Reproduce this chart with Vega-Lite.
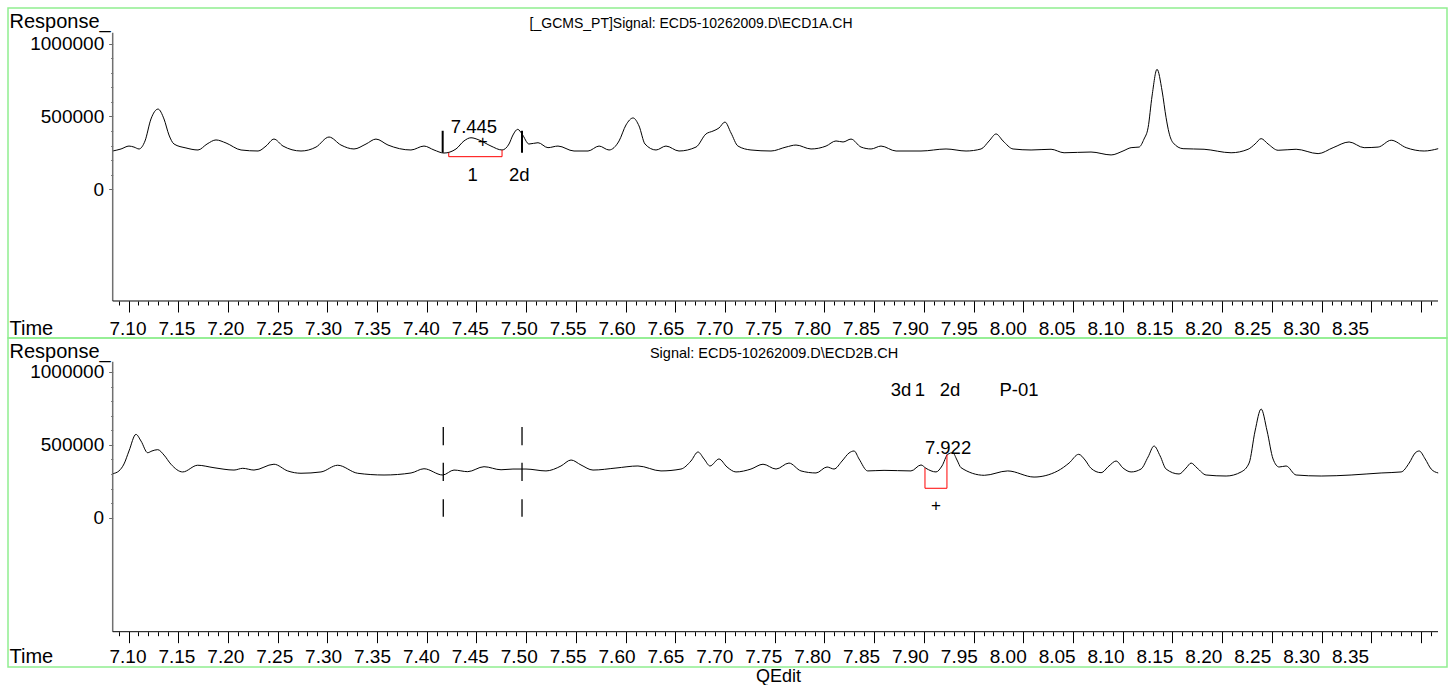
{
  "$schema": "https://vega.github.io/schema/vega-lite/v6.json",
  "padding": {"left": 7, "top": 7, "right": 0, "bottom": 0},
  "background": "white",
  "spacing": 0,
  "bounds": "flush",
  "config": {
    "view": {"stroke": "#90ee90", "strokeWidth": 1.5},
    "font": "Liberation Sans",
    "axis": {"grid": false, "domain": false, "labelFont": "Liberation Sans", "titleFont": "Liberation Sans", "labelColor": "black", "titleColor": "black", "titleFontWeight": "normal", "labelFlush": false, "labelOverlap": false, "labelBound": false}
  },
  "datasets": {
    "top": [
      {"t":7.0841,"v":263000},{"t":7.0925,"v":277000},{"t":7.1005,"v":297000},{"t":7.1055,"v":290000},{"t":7.1106,"v":277000},{"t":7.1166,"v":332000},{"t":7.1226,"v":483000},{"t":7.1297,"v":551000},{"t":7.1357,"v":483000},{"t":7.1407,"v":373000},{"t":7.1458,"v":311000},{"t":7.1578,"v":284000},{"t":7.1699,"v":270000},{"t":7.179,"v":311000},{"t":7.188,"v":339000},{"t":7.1981,"v":318000},{"t":7.2132,"v":270000},{"t":7.2303,"v":263000},{"t":7.2383,"v":297000},{"t":7.2463,"v":345000},{"t":7.2554,"v":297000},{"t":7.2735,"v":263000},{"t":7.2886,"v":290000},{"t":7.3017,"v":359000},{"t":7.3137,"v":304000},{"t":7.3268,"v":277000},{"t":7.3389,"v":311000},{"t":7.3489,"v":345000},{"t":7.361,"v":304000},{"t":7.3841,"v":270000},{"t":7.3972,"v":297000},{"t":7.4073,"v":270000},{"t":7.4173,"v":249000},{"t":7.4294,"v":277000},{"t":7.4374,"v":332000},{"t":7.4445,"v":354000},{"t":7.4525,"v":339000},{"t":7.4646,"v":297000},{"t":7.4757,"v":270000},{"t":7.4827,"v":311000},{"t":7.4867,"v":373000},{"t":7.4915,"v":412000},{"t":7.4958,"v":380000},{"t":7.5028,"v":311000},{"t":7.5119,"v":320000},{"t":7.5219,"v":286000},{"t":7.532,"v":297000},{"t":7.5481,"v":263000},{"t":7.5622,"v":263000},{"t":7.5733,"v":297000},{"t":7.5833,"v":270000},{"t":7.5934,"v":332000},{"t":7.6004,"v":442000},{"t":7.6075,"v":490000},{"t":7.6135,"v":435000},{"t":7.6195,"v":311000},{"t":7.6306,"v":270000},{"t":7.6406,"v":297000},{"t":7.6537,"v":263000},{"t":7.6708,"v":290000},{"t":7.6808,"v":380000},{"t":7.6879,"v":400000},{"t":7.6939,"v":421000},{"t":7.6999,"v":462000},{"t":7.706,"v":387000},{"t":7.713,"v":297000},{"t":7.7261,"v":270000},{"t":7.7462,"v":263000},{"t":7.7613,"v":290000},{"t":7.7714,"v":304000},{"t":7.7865,"v":277000},{"t":7.8016,"v":297000},{"t":7.8116,"v":332000},{"t":7.8187,"v":325000},{"t":7.8267,"v":345000},{"t":7.8368,"v":290000},{"t":7.8469,"v":277000},{"t":7.8569,"v":297000},{"t":7.872,"v":263000},{"t":7.8971,"v":263000},{"t":7.9223,"v":277000},{"t":7.9424,"v":263000},{"t":7.9575,"v":277000},{"t":7.9656,"v":332000},{"t":7.9726,"v":380000},{"t":7.9796,"v":332000},{"t":7.9897,"v":277000},{"t":8.0078,"v":270000},{"t":8.0279,"v":275000},{"t":8.041,"v":251000},{"t":8.0681,"v":256000},{"t":8.0883,"v":236000},{"t":8.1003,"v":263000},{"t":8.1084,"v":286000},{"t":8.1164,"v":290000},{"t":8.1214,"v":345000},{"t":8.1255,"v":423000},{"t":8.1295,"v":641000},{"t":8.1345,"v":824000},{"t":8.1396,"v":675000},{"t":8.1436,"v":492000},{"t":8.1466,"v":387000},{"t":8.1506,"v":320000},{"t":8.1607,"v":279000},{"t":8.1818,"v":275000},{"t":8.209,"v":251000},{"t":8.2261,"v":275000},{"t":8.2331,"v":311000},{"t":8.2392,"v":348000},{"t":8.2462,"v":311000},{"t":8.2563,"v":268000},{"t":8.2744,"v":275000},{"t":8.2965,"v":245000},{"t":8.3116,"v":286000},{"t":8.3277,"v":325000},{"t":8.3428,"v":286000},{"t":8.3569,"v":290000},{"t":8.37,"v":337000},{"t":8.3851,"v":286000},{"t":8.4032,"v":263000},{"t":8.4173,"v":279000}
    ],
    "bottom": [
      {"t":7.0841,"v":302000},{"t":7.0904,"v":321000},{"t":7.0955,"v":369000},{"t":7.1005,"v":458000},{"t":7.1075,"v":572000},{"t":7.1126,"v":526000},{"t":7.1193,"v":446000},{"t":7.1236,"v":458000},{"t":7.1294,"v":467000},{"t":7.1357,"v":430000},{"t":7.1427,"v":367000},{"t":7.1545,"v":314000},{"t":7.1696,"v":360000},{"t":7.186,"v":343000},{"t":7.2061,"v":327000},{"t":7.2149,"v":339000},{"t":7.2262,"v":327000},{"t":7.2463,"v":367000},{"t":7.2601,"v":321000},{"t":7.2735,"v":305000},{"t":7.2936,"v":314000},{"t":7.3104,"v":360000},{"t":7.3305,"v":305000},{"t":7.357,"v":293000},{"t":7.3842,"v":307000},{"t":7.3972,"v":336000},{"t":7.416,"v":293000},{"t":7.4274,"v":327000},{"t":7.4412,"v":316000},{"t":7.4576,"v":350000},{"t":7.4747,"v":329000},{"t":7.4867,"v":334000},{"t":7.4998,"v":334000},{"t":7.5199,"v":321000},{"t":7.535,"v":355000},{"t":7.5451,"v":396000},{"t":7.5551,"v":362000},{"t":7.5672,"v":327000},{"t":7.5903,"v":341000},{"t":7.6124,"v":355000},{"t":7.6356,"v":321000},{"t":7.6557,"v":334000},{"t":7.6657,"v":389000},{"t":7.6728,"v":451000},{"t":7.6789,"v":403000},{"t":7.6849,"v":355000},{"t":7.6939,"v":403000},{"t":7.702,"v":348000},{"t":7.711,"v":314000},{"t":7.7261,"v":334000},{"t":7.7382,"v":367000},{"t":7.7513,"v":334000},{"t":7.7643,"v":375000},{"t":7.7764,"v":321000},{"t":7.7915,"v":307000},{"t":7.8026,"v":348000},{"t":7.8096,"v":334000},{"t":7.8177,"v":389000},{"t":7.8247,"v":444000},{"t":7.8298,"v":458000},{"t":7.8348,"v":403000},{"t":7.8435,"v":321000},{"t":7.8599,"v":325000},{"t":7.887,"v":321000},{"t":7.8971,"v":362000},{"t":7.9021,"v":339000},{"t":7.9122,"v":314000},{"t":7.9182,"v":355000},{"t":7.924,"v":435000},{"t":7.929,"v":446000},{"t":7.9333,"v":396000},{"t":7.9374,"v":343000},{"t":7.9608,"v":291000},{"t":7.9843,"v":321000},{"t":8.0108,"v":279000},{"t":8.0346,"v":321000},{"t":8.046,"v":375000},{"t":8.0557,"v":435000},{"t":8.0621,"v":396000},{"t":8.0681,"v":339000},{"t":8.0782,"v":309000},{"t":8.0862,"v":355000},{"t":8.0933,"v":389000},{"t":8.1003,"v":341000},{"t":8.1084,"v":314000},{"t":8.1184,"v":334000},{"t":8.1255,"v":417000},{"t":8.1315,"v":492000},{"t":8.1376,"v":424000},{"t":8.1436,"v":334000},{"t":8.1567,"v":300000},{"t":8.1637,"v":341000},{"t":8.1688,"v":375000},{"t":8.1748,"v":341000},{"t":8.1839,"v":293000},{"t":8.204,"v":286000},{"t":8.2191,"v":314000},{"t":8.2271,"v":375000},{"t":8.2331,"v":595000},{"t":8.2392,"v":746000},{"t":8.2452,"v":595000},{"t":8.2512,"v":403000},{"t":8.2573,"v":348000},{"t":8.2643,"v":355000},{"t":8.2744,"v":293000},{"t":8.2996,"v":286000},{"t":8.3297,"v":293000},{"t":8.3599,"v":307000},{"t":8.38,"v":314000},{"t":8.3881,"v":375000},{"t":8.3941,"v":444000},{"t":8.3982,"v":458000},{"t":8.4042,"v":403000},{"t":8.4102,"v":334000},{"t":8.4173,"v":307000}
    ],
    "topBars": [{"t":7.416,"a":251000,"b":402000},{"t":7.4958,"a":251000,"b":402000}],
    "topRed": [{"i":1,"t":7.4221,"v":251000},{"i":2,"t":7.4221,"v":224000},{"i":3,"t":7.4757,"v":224000},{"i":4,"t":7.4757,"v":270000}],
    "topText": [{"t":7.4475,"v":385000,"label":"7.445"},{"t":7.4462,"v":57000,"label":"1"},{"t":7.4931,"v":57000,"label":"2d"}],
    "topPlus": [{"t":7.4563,"v":325000,"label":"+"}],
    "topTitle": [{"t":7.6658,"v":1110000,"label":"[_GCMS_PT]Signal: ECD5-10262009.D\\ECD1A.CH"}],
    "bottomDashes": [{"t":7.4166,"a":496900,"b":622500},{"t":7.4166,"a":251900,"b":377500},{"t":7.4166,"a":6900,"b":126300},{"t":7.4958,"a":496900,"b":622500},{"t":7.4958,"a":251900,"b":377500},{"t":7.4958,"a":6900,"b":126300}],
    "bottomRed": [{"i":1,"t":7.9011,"v":341000},{"i":2,"t":7.9011,"v":202000},{"i":3,"t":7.9232,"v":202000},{"i":4,"t":7.9232,"v":435000}],
    "bottomText": [{"t":7.9243,"v":435000,"label":"7.922"},{"t":7.877,"v":835000,"label":"3d"},{"t":7.8961,"v":835000,"label":"1"},{"t":7.9263,"v":835000,"label":"2d"},{"t":7.9957,"v":835000,"label":"P-01"}],
    "bottomPlus": [{"t":7.9122,"v":80000,"label":"+"}],
    "bottomTitle": [{"t":7.7493,"v":1098000,"label":"Signal: ECD5-10262009.D\\ECD2B.CH"}]
  },
  "vconcat": [
    {
      "width": 1439, "height": 330,
      "resolve": {"axis": {"x": "independent", "y": "independent"}},
      "layer": [
        {
          "data": {"name": "top"},
          "mark": {"type": "line", "color": "black", "strokeWidth": 1, "interpolate": "monotone"},
          "encoding": {
            "x": {"field": "t", "type": "quantitative", "scale": {"domain": [6.9788, 8.42615], "nice": false, "zero": false},
              "axis": {"orient": "bottom", "offset": -37, "values": [7.1,7.15,7.2,7.25,7.3,7.35,7.4,7.45,7.5,7.55,7.6,7.65,7.7,7.75,7.8,7.85,7.9,7.95,8.0,8.05,8.1,8.15,8.2,8.25,8.3,8.35,8.4], "tickSize": 11, "tickColor": "black", "tickWidth": 1, "labelPadding": 22, "labelBaseline": "alphabetic", "labelFontSize": 19, "labelExpr": "datum.value > 8.37 ? '' : format(datum.value, '.2f')", "labelOffset": {"expr": "-1-16.2*(datum.value-7.1)"}, "title": "Time", "titleX": 1, "titleY": 33, "titleAlign": "left", "titleBaseline": "alphabetic", "titleFontSize": 20, "titleAngle": 0}},
            "y": {"field": "v", "type": "quantitative", "scale": {"domain": [-1021291, 1245192], "nice": false, "zero": false},
              "axis": {"orient": "left", "offset": -104.7, "values": [0, 500000, 1000000], "tickSize": 4, "tickColor": "#666", "labelPadding": 5, "labelFontSize": 19, "labelBaseline": "middle", "format": "d", "title": "Response_", "titleAngle": 0, "titleAlign": "left", "titleBaseline": "alphabetic", "titleX": -103.7, "titleY": 19.7, "titleFontSize": 20}}
          }
        },
        {
          "data": {"values": [{}]},
          "mark": {"type": "rule", "color": "#707070", "strokeWidth": 1.5},
          "encoding": {
            "x": {"datum": 7.0841, "type": "quantitative", "scale": {"domain": [6.9788, 8.42615], "nice": false, "zero": false},
              "axis": {"orient": "bottom", "offset": -37, "values": [7.09,7.1,7.11,7.12,7.13,7.14,7.15,7.16,7.17,7.18,7.19,7.2,7.21,7.22,7.23,7.24,7.25,7.26,7.27,7.28,7.29,7.3,7.31,7.32,7.33,7.34,7.35,7.36,7.37,7.38,7.39,7.4,7.41,7.42,7.43,7.44,7.45,7.46,7.47,7.48,7.49,7.5,7.51,7.52,7.53,7.54,7.55,7.56,7.57,7.58,7.59,7.6,7.61,7.62,7.63,7.64,7.65,7.66,7.67,7.68,7.69,7.7,7.71,7.72,7.73,7.74,7.75,7.76,7.77,7.78,7.79,7.8,7.81,7.82,7.83,7.84,7.85,7.86,7.87,7.88,7.89,7.9,7.91,7.92,7.93,7.94,7.95,7.96,7.97,7.98,7.99,8,8.01,8.02,8.03,8.04,8.05,8.06,8.07,8.08,8.09,8.1,8.11,8.12,8.13,8.14,8.15,8.16,8.17,8.18,8.19,8.2,8.21,8.22,8.23,8.24,8.25,8.26,8.27,8.28,8.29,8.3,8.31,8.32,8.33,8.34,8.35,8.36,8.37,8.38,8.39,8.4,8.41], "tickSize": 4, "tickColor": "black", "labels": false, "title": null}},
            "y": {"datum": -767170, "type": "quantitative", "scale": {"domain": [-1021291, 1245192], "nice": false, "zero": false},
              "axis": {"orient": "left", "offset": -104.7, "values": [100000,200000,300000,400000,600000,700000,800000,900000], "tickSize": 2, "tickColor": "#666", "labels": false, "title": null}},
            "y2": {"datum": 1075500}
          }
        },
        {
          "data": {"values": [{}]},
          "mark": {"type": "rule", "color": "black", "strokeWidth": 1},
          "encoding": {
            "x": {"datum": 7.0841, "type": "quantitative", "scale": {"domain": [6.9788, 8.42615], "nice": false, "zero": false}, "axis": null},
            "x2": {"datum": 8.4171},
            "y": {"datum": -767170, "type": "quantitative", "scale": {"domain": [-1021291, 1245192], "nice": false, "zero": false}, "axis": null}
          }
        },
        {
          "data": {"name": "topBars"},
          "mark": {"type": "rule", "color": "black", "strokeWidth": 2},
          "encoding": {
            "x": {"field": "t", "type": "quantitative", "scale": {"domain": [6.9788, 8.42615], "nice": false, "zero": false}, "axis": null},
            "y": {"field": "a", "type": "quantitative", "scale": {"domain": [-1021291, 1245192], "nice": false, "zero": false}, "axis": null},
            "y2": {"field": "b"}
          }
        },
        {
          "data": {"name": "topRed"},
          "mark": {"type": "line", "color": "#ff0000", "strokeWidth": 1},
          "encoding": {
            "x": {"field": "t", "type": "quantitative", "scale": {"domain": [6.9788, 8.42615], "nice": false, "zero": false}, "axis": null},
            "y": {"field": "v", "type": "quantitative", "scale": {"domain": [-1021291, 1245192], "nice": false, "zero": false}, "axis": null},
            "order": {"field": "i", "type": "quantitative"}
          }
        },
        {
          "data": {"name": "topText"},
          "mark": {"type": "text", "fontSize": 18.5, "align": "center", "baseline": "alphabetic", "color": "black"},
          "encoding": {
            "x": {"field": "t", "type": "quantitative", "scale": {"domain": [6.9788, 8.42615], "nice": false, "zero": false}, "axis": null},
            "y": {"field": "v", "type": "quantitative", "scale": {"domain": [-1021291, 1245192], "nice": false, "zero": false}, "axis": null},
            "text": {"field": "label"}
          }
        },
        {
          "data": {"name": "topPlus"},
          "mark": {"type": "text", "fontSize": 17, "align": "center", "baseline": "middle", "color": "black"},
          "encoding": {
            "x": {"field": "t", "type": "quantitative", "scale": {"domain": [6.9788, 8.42615], "nice": false, "zero": false}, "axis": null},
            "y": {"field": "v", "type": "quantitative", "scale": {"domain": [-1021291, 1245192], "nice": false, "zero": false}, "axis": null},
            "text": {"field": "label"}
          }
        },
        {
          "data": {"name": "topTitle"},
          "mark": {"type": "text", "fontSize": 14, "align": "center", "baseline": "alphabetic", "color": "black"},
          "encoding": {
            "x": {"field": "t", "type": "quantitative", "scale": {"domain": [6.9788, 8.42615], "nice": false, "zero": false}, "axis": null},
            "y": {"field": "v", "type": "quantitative", "scale": {"domain": [-1021291, 1245192], "nice": false, "zero": false}, "axis": null},
            "text": {"field": "label"}
          }
        }
      ]
    },
    {
      "width": 1439, "height": 329,
      "resolve": {"axis": {"x": "independent", "y": "independent"}},
      "layer": [
        {
          "data": {"name": "bottom"},
          "mark": {"type": "line", "color": "black", "strokeWidth": 1, "interpolate": "monotone"},
          "encoding": {
            "x": {"field": "t", "type": "quantitative", "scale": {"domain": [6.9788, 8.42615], "nice": false, "zero": false},
              "axis": {"orient": "bottom", "offset": -35.3, "values": [7.1,7.15,7.2,7.25,7.3,7.35,7.4,7.45,7.5,7.55,7.6,7.65,7.7,7.75,7.8,7.85,7.9,7.95,8.0,8.05,8.1,8.15,8.2,8.25,8.3,8.35,8.4], "tickSize": 11, "tickColor": "black", "tickWidth": 1, "labelPadding": 20, "labelBaseline": "alphabetic", "labelFontSize": 19, "labelExpr": "datum.value > 8.37 ? '' : format(datum.value, '.2f')", "labelOffset": {"expr": "-1-16.2*(datum.value-7.1)"}, "title": "Time", "titleX": 1, "titleY": 31, "titleAlign": "left", "titleBaseline": "alphabetic", "titleFontSize": 20, "titleAngle": 0}},
            "y": {"field": "v", "type": "quantitative", "scale": {"domain": [-1024708, 1233356], "nice": false, "zero": false},
              "axis": {"orient": "left", "offset": -104.7, "values": [0, 500000, 1000000], "tickSize": 4, "tickColor": "#666", "labelPadding": 5, "labelFontSize": 19, "labelBaseline": "middle", "format": "d", "title": "Response_", "titleAngle": 0, "titleAlign": "left", "titleBaseline": "alphabetic", "titleX": -103.7, "titleY": 19.7, "titleFontSize": 20}}
          }
        },
        {
          "data": {"values": [{}]},
          "mark": {"type": "rule", "color": "#707070", "strokeWidth": 1.5},
          "encoding": {
            "x": {"datum": 7.0841, "type": "quantitative", "scale": {"domain": [6.9788, 8.42615], "nice": false, "zero": false},
              "axis": {"orient": "bottom", "offset": -35.3, "values": [7.09,7.1,7.11,7.12,7.13,7.14,7.15,7.16,7.17,7.18,7.19,7.2,7.21,7.22,7.23,7.24,7.25,7.26,7.27,7.28,7.29,7.3,7.31,7.32,7.33,7.34,7.35,7.36,7.37,7.38,7.39,7.4,7.41,7.42,7.43,7.44,7.45,7.46,7.47,7.48,7.49,7.5,7.51,7.52,7.53,7.54,7.55,7.56,7.57,7.58,7.59,7.6,7.61,7.62,7.63,7.64,7.65,7.66,7.67,7.68,7.69,7.7,7.71,7.72,7.73,7.74,7.75,7.76,7.77,7.78,7.79,7.8,7.81,7.82,7.83,7.84,7.85,7.86,7.87,7.88,7.89,7.9,7.91,7.92,7.93,7.94,7.95,7.96,7.97,7.98,7.99,8,8.01,8.02,8.03,8.04,8.05,8.06,8.07,8.08,8.09,8.1,8.11,8.12,8.13,8.14,8.15,8.16,8.17,8.18,8.19,8.2,8.21,8.22,8.23,8.24,8.25,8.26,8.27,8.28,8.29,8.3,8.31,8.32,8.33,8.34,8.35,8.36,8.37,8.38,8.39,8.4,8.41], "tickSize": 4, "tickColor": "black", "labels": false, "title": null}},
            "y": {"datum": -782430, "type": "quantitative", "scale": {"domain": [-1024708, 1233356], "nice": false, "zero": false},
              "axis": {"orient": "left", "offset": -104.7, "values": [100000,200000,300000,400000,600000,700000,800000,900000], "tickSize": 2, "tickColor": "#666", "labels": false, "title": null}},
            "y2": {"datum": 1070693}
          }
        },
        {
          "data": {"values": [{}]},
          "mark": {"type": "rule", "color": "black", "strokeWidth": 1},
          "encoding": {
            "x": {"datum": 7.0841, "type": "quantitative", "scale": {"domain": [6.9788, 8.42615], "nice": false, "zero": false}, "axis": null},
            "x2": {"datum": 8.4171},
            "y": {"datum": -782430, "type": "quantitative", "scale": {"domain": [-1024708, 1233356], "nice": false, "zero": false}, "axis": null}
          }
        },
        {
          "data": {"name": "bottomDashes"},
          "mark": {"type": "rule", "color": "black", "strokeWidth": 1.3},
          "encoding": {
            "x": {"field": "t", "type": "quantitative", "scale": {"domain": [6.9788, 8.42615], "nice": false, "zero": false}, "axis": null},
            "y": {"field": "a", "type": "quantitative", "scale": {"domain": [-1024708, 1233356], "nice": false, "zero": false}, "axis": null},
            "y2": {"field": "b"}
          }
        },
        {
          "data": {"name": "bottomRed"},
          "mark": {"type": "line", "color": "#ff0000", "strokeWidth": 1},
          "encoding": {
            "x": {"field": "t", "type": "quantitative", "scale": {"domain": [6.9788, 8.42615], "nice": false, "zero": false}, "axis": null},
            "y": {"field": "v", "type": "quantitative", "scale": {"domain": [-1024708, 1233356], "nice": false, "zero": false}, "axis": null},
            "order": {"field": "i", "type": "quantitative"}
          }
        },
        {
          "data": {"name": "bottomText"},
          "mark": {"type": "text", "fontSize": 18.5, "align": "center", "baseline": "alphabetic", "color": "black"},
          "encoding": {
            "x": {"field": "t", "type": "quantitative", "scale": {"domain": [6.9788, 8.42615], "nice": false, "zero": false}, "axis": null},
            "y": {"field": "v", "type": "quantitative", "scale": {"domain": [-1024708, 1233356], "nice": false, "zero": false}, "axis": null},
            "text": {"field": "label"}
          }
        },
        {
          "data": {"name": "bottomPlus"},
          "mark": {"type": "text", "fontSize": 17, "align": "center", "baseline": "middle", "color": "black"},
          "encoding": {
            "x": {"field": "t", "type": "quantitative", "scale": {"domain": [6.9788, 8.42615], "nice": false, "zero": false}, "axis": null},
            "y": {"field": "v", "type": "quantitative", "scale": {"domain": [-1024708, 1233356], "nice": false, "zero": false}, "axis": null},
            "text": {"field": "label"}
          }
        },
        {
          "data": {"name": "bottomTitle"},
          "mark": {"type": "text", "fontSize": 14.5, "align": "center", "baseline": "alphabetic", "color": "black"},
          "encoding": {
            "x": {"field": "t", "type": "quantitative", "scale": {"domain": [6.9788, 8.42615], "nice": false, "zero": false}, "axis": null},
            "y": {"field": "v", "type": "quantitative", "scale": {"domain": [-1024708, 1233356], "nice": false, "zero": false}, "axis": null},
            "text": {"field": "label"}
          }
        }
      ]
    },
    {
      "width": 1439, "height": 19,
      "data": {"values": [{"label": "QEdit"}]},
      "mark": {"type": "text", "fontSize": 18, "dx": 51, "align": "center", "baseline": "middle", "color": "black"},
      "encoding": {"text": {"field": "label"}}
    }
  ]
}
